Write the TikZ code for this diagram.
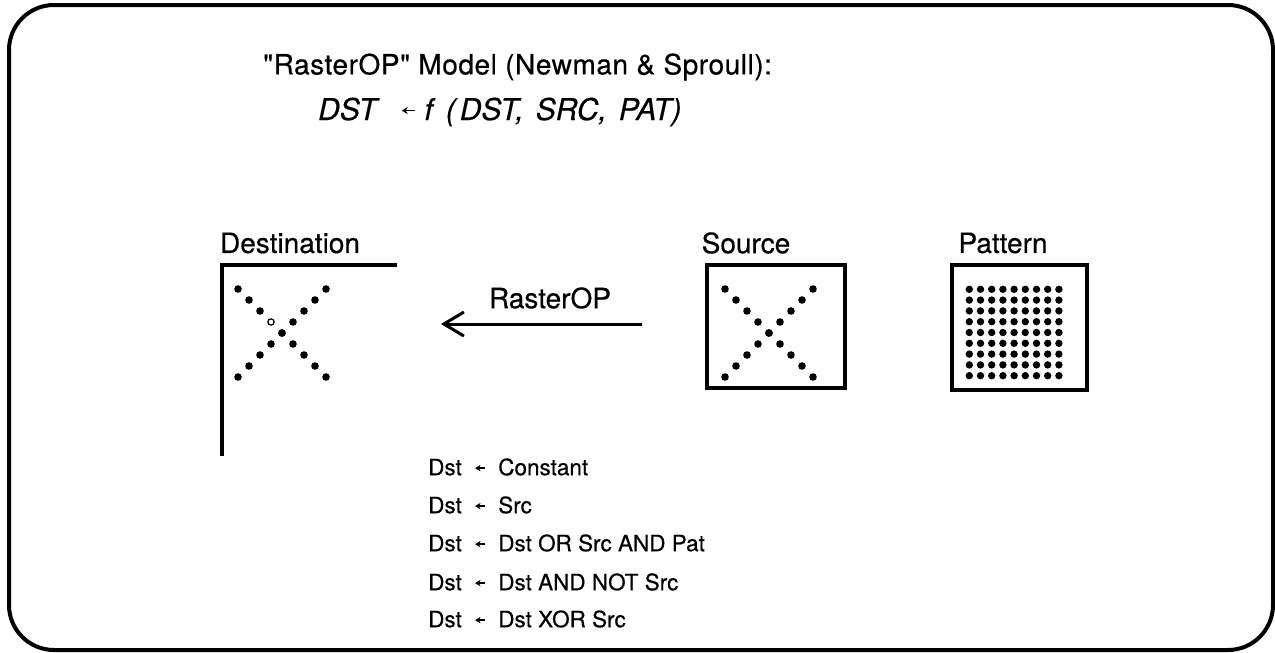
\documentclass[tikz,border=0pt]{standalone}
\usepackage{fontspec}
\setmainfont{TeX Gyre Heros}[Ligatures=TeXOff,FakeBold=0.5]
\usetikzlibrary{arrows.meta}
\newcommand{\sarr}{\tikz[baseline=-0.6ex]\draw[line width=1.4pt,-{Stealth[length=5.5pt,width=6.5pt]}] (10pt,0) -- (0,0);}
\newcommand{\farr}{\tikz[baseline=-0.6ex]\draw[line width=1.5pt,-{Stealth[length=6pt,width=7pt]}] (13pt,0) -- (0,0);}
\begin{document}
\begin{tikzpicture}[x=1pt,y=-1pt,
  txt/.style={inner sep=0pt, font=\fontsize{22.5}{27}\selectfont},
  lbl/.style={inner sep=0pt, font=\fontsize{28}{32}\selectfont},
  ttl/.style={inner sep=0pt, font=\fontsize{28}{32}\selectfont\addfontfeature{LetterSpace=2}},
  itxt/.style={inner sep=0pt, font=\fontsize{30}{34}\selectfont\itshape},
  frame/.style={line width=4pt, rounded corners=45pt},
  box/.style={draw, line width=3.5pt, inner sep=0pt}]
\useasboundingbox (0,0) rectangle (1275,653);
\draw[frame] (9,5) rectangle (1273,650);
% title and formula
\node[ttl, anchor=west] (title) at (263,67) {"RasterOP" Model (Newman \& Sproull):};
\node[itxt, anchor=west] (formula) at (318,112) {DST\hspace{24pt}\farr\hspace{9pt}f\hspace{13pt}(\hspace{4pt}DST,\hspace{12pt}SRC,\hspace{12pt}PAT)};
% labels
\node[lbl] (ldst) at (290,243) {Destination};
\node[lbl] (lsrc) at (746,243) {Source};
\node[lbl] (lpat) at (1003,243) {Pattern};
% destination L frame
\coordinate (dtr) at (397,265);
\coordinate (dtl) at (222,265);
\coordinate (dbl) at (222,456);
\draw[line width=3.5pt] (dtr) -- (dtl) -- (dbl);
% source and pattern boxes
\node[box, minimum width=138pt, minimum height=123pt] (src) at (776,326.5) {};
\node[box, minimum width=135pt, minimum height=125pt] (pat) at (1019.5,327.5) {};
% X dots
\foreach \i in {-4,...,4} {
  \fill (282+11*\i,333+11*\i) circle (3.8);
  \fill (282+11*\i,333-11*\i) circle (3.8);
  \fill (769+11*\i,333+11*\i) circle (3.8);
  \fill (769+11*\i,333-11*\i) circle (3.8);
}
\fill[white] (271,322) circle (2.3);
% pattern grid
\foreach \i in {0,...,8} \foreach \j in {0,...,8} {
  \fill (969.3+11.2*\i,289.3+10.8*\j) circle (3.7);
}
% RasterOP arrow
\coordinate (aS) at (642,324);
\coordinate (aE) at (441,324);
\draw[line width=3pt, -{Straight Barb[length=20pt,width=24pt,line width=3pt]}] (aS) -- (aE);
\node[lbl] (lrop) at (550,298) {RasterOP};
% list
\node[txt, anchor=west] (l1) at (428,467) {Dst \ \sarr\ \ Constant};
\node[txt, anchor=west] (l2) at (428,505) {Dst \ \sarr\ \ Src};
\node[txt, anchor=west] (l3) at (428,543) {Dst \ \sarr\ \ Dst OR Src AND Pat};
\node[txt, anchor=west] (l4) at (428,582) {Dst \ \sarr\ \ Dst AND NOT Src};
\node[txt, anchor=west] (l5) at (428,619) {Dst \ \sarr\ \ Dst XOR Src};
\end{tikzpicture}
\end{document}
